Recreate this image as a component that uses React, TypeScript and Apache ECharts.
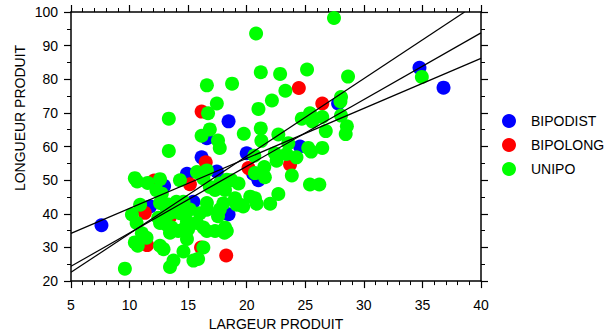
import React, { useEffect, useRef } from "react";
import * as echarts from "echarts";

const xTicks = [5, 10, 15, 20, 25, 30, 35, 40];
const yTicks = [20, 30, 40, 50, 60, 70, 80, 90, 100];
const seriesNames = ["BIPODIST", "BIPOLONG", "UNIPO"];

const bipodist: number[][] = [
  [7.6, 36.6], [11.75, 42.2], [12.95, 48.3], [14.9, 51.9], [15.45, 43.6], [16.15, 56.8],
  [16.6, 62.5], [17.45, 52.6], [18.45, 67.5], [18.45, 39.9], [20.0, 58.0], [21.0, 50.0],
  [20.55, 51.9], [24.55, 60.0], [27.8, 72.8], [34.75, 83.4], [36.8, 77.5],
];

const bipolong: number[][] = [
  [11.3, 40.3], [11.5, 30.7], [12.1, 49.9], [15.15, 48.8], [16.15, 70.4], [16.5, 55.3],
  [16.1, 30.0], [18.25, 27.6], [20.15, 53.6], [23.7, 54.7], [24.45, 77.4], [26.45, 72.8],
  [13.45, 39.1],
];

const unipo: number[][] = [
  [27.45, 98.2], [20.8, 93.6], [34.95, 80.7], [21.2, 82.1], [22.85, 81.6], [25.15, 82.9],
  [28.65, 80.8], [16.6, 78.2], [18.75, 78.7], [17.45, 72.8], [22.15, 73.7], [23.3, 76.6],
  [21.0, 71.2], [16.7, 69.9], [13.35, 68.3], [16.85, 65.1], [21.2, 65.4], [19.75, 63.8],
  [22.7, 63.6], [16.15, 63.2], [17.55, 61.8], [17.7, 59.6], [21.25, 61.7], [13.35, 58.7],
  [20.65, 57.3], [22.4, 58.0], [28.05, 74.7], [28.0, 73.4], [24.7, 68.3], [25.4, 69.9],
  [25.6, 67.5], [26.45, 68.8], [28.05, 69.2], [28.55, 66.0], [28.45, 63.7], [26.75, 64.6],
  [23.55, 61.0], [25.25, 59.6], [25.5, 58.5], [26.45, 59.6], [23.4, 57.8], [24.25, 56.8],
  [22.55, 55.8], [21.5, 53.9], [20.7, 52.1], [21.55, 50.9], [23.85, 51.4], [25.4, 48.7],
  [26.2, 48.7], [22.7, 45.9], [20.3, 45.1], [20.7, 44.6], [20.85, 43.0], [22.0, 43.0],
  [19.0, 44.6], [19.15, 42.7], [19.7, 42.2], [18.7, 50.0], [19.3, 49.0], [18.3, 34.9],
  [10.45, 50.6], [10.65, 49.6], [12.6, 50.3], [12.3, 47.0], [12.75, 46.0], [14.3, 50.0],
  [15.75, 52.4], [16.3, 50.5], [16.6, 52.9], [14.6, 43.6], [10.9, 42.7], [10.2, 39.8],
  [16.85, 48.0], [17.3, 47.1], [17.7, 49.0], [18.15, 47.1], [18.3, 50.1], [16.6, 43.2],
  [16.6, 41.2], [19.45, 42.7], [12.6, 43.2], [13.15, 41.7], [13.45, 40.2], [13.3, 42.8],
  [14.3, 40.2], [14.9, 37.8], [16.0, 40.2], [15.15, 41.3], [14.0, 43.6], [17.7, 41.3],
  [18.0, 43.1], [17.55, 39.3], [12.45, 38.8], [12.6, 37.3], [13.15, 36.8], [13.6, 35.9],
  [14.15, 34.9], [14.75, 35.9], [15.0, 35.4], [15.75, 37.3], [16.3, 35.9], [16.6, 34.9],
  [17.3, 34.9], [10.6, 37.3], [11.05, 34.2], [11.45, 32.9], [10.45, 31.5], [10.7, 30.5],
  [13.45, 34.4], [14.9, 32.5], [12.6, 30.5], [12.9, 29.5], [14.6, 28.8], [16.3, 30.0],
  [15.45, 26.1], [15.85, 26.6], [13.75, 26.1], [13.45, 24.2], [9.6, 23.7], [18.15, 35.9],
  [18.1, 34.4], [11.55, 49.2],
];

const lineA: number[][] = [[5, 34.2], [40, 86.2]];
const lineB: number[][] = [[5, 24.4], [40, 93.8]];
const lineC: number[][] = [[5, 22.6], [38.6, 100]];

const FONT = "'Liberation Sans', Arial, sans-serif";

export default function App() {
  const ref = useRef<HTMLDivElement>(null);
  useEffect(() => {
    if (!ref.current) return;
    const chart = echarts.init(ref.current, null, { renderer: "svg" });
    const axisLine = { show: true, onZero: false, lineStyle: { color: "#000", width: 1.5 } };
    const axisTick = { show: true, inside: false, length: 7, lineStyle: { color: "#000", width: 1.2 } };
    const xMinor = { show: true, splitNumber: 5, length: 4, lineStyle: { color: "#000", width: 1 } };
    const yMinor = { show: true, splitNumber: 2, length: 4, lineStyle: { color: "#000", width: 1 } };
    const xBase = {
      type: "value",
      min: xTicks[0],
      max: xTicks[xTicks.length - 1],
      interval: 5,
      axisLine,
      axisTick,
      minorTick: xMinor,
      splitLine: { show: false },
      minorSplitLine: { show: false },
    };
    const yBase = {
      type: "value",
      min: yTicks[0],
      max: yTicks[yTicks.length - 1],
      interval: 10,
      axisLine,
      axisTick,
      minorTick: yMinor,
      splitLine: { show: false },
      minorSplitLine: { show: false },
    };
    const sym = (name: string, data: number[][], color: string, z: number) => ({
      name,
      type: "scatter",
      data,
      symbol: "circle",
      symbolSize: 14,
      itemStyle: { color, opacity: 1 },
      z,
      xAxisIndex: 0,
      yAxisIndex: 0,
    });
    const reg = (data: number[][]) => ({
      type: "line",
      data,
      showSymbol: false,
      symbol: "none",
      lineStyle: { color: "#000", width: 1.2 },
      z: 10,
      silent: true,
      xAxisIndex: 0,
      yAxisIndex: 0,
    });
    chart.setOption({
      animation: false,
      backgroundColor: "#fff",
      textStyle: { fontFamily: FONT },
      grid: { left: 71, right: 131, top: 12, bottom: 50, containLabel: false },
      xAxis: [
        {
          ...xBase,
          position: "bottom",
          axisLabel: { show: true, color: "#000", fontSize: 14, fontFamily: FONT, margin: 17 },
          name: "LARGEUR PRODUIT",
          nameLocation: "middle",
          nameGap: 34,
          nameTextStyle: { color: "#000", fontSize: 14, fontFamily: FONT },
        },
        { ...xBase, position: "top", axisLabel: { show: false } },
      ],
      yAxis: [
        {
          ...yBase,
          position: "left",
          axisLabel: { show: true, color: "#000", fontSize: 14, fontFamily: FONT, margin: 13 },
        },
        { ...yBase, position: "right", axisLabel: { show: false } },
      ],
      legend: {
        data: seriesNames,
        orient: "vertical",
        left: 502,
        top: 114,
        padding: 0,
        itemWidth: 14,
        itemHeight: 14,
        itemGap: 10,
        icon: "circle",
        textStyle: { color: "#000", fontSize: 14, fontFamily: FONT, padding: [0, 0, 0, 10] },
      },
      graphic: [
        {
          type: "text",
          x: 20,
          y: 118,
          rotation: Math.PI / 2,
          style: {
            text: "LONGUEUR PRODUIT",
            fill: "#000",
            fontSize: 14,
            fontFamily: FONT,
            textAlign: "center",
            textVerticalAlign: "middle",
          },
        },
      ],
      series: [
        sym(seriesNames[0], bipodist, "#0000ff", 2),
        sym(seriesNames[1], bipolong, "#ff0000", 3),
        sym(seriesNames[2], unipo, "#00ff00", 4),
        reg(lineA),
        reg(lineB),
        reg(lineC),
      ],
    });
    return () => chart.dispose();
  }, []);
  return (
    <div
      ref={ref}
      style={{ position: "fixed", left: 0, top: 0, width: 612, height: 336, background: "#fff" }}
    />
  );
}
